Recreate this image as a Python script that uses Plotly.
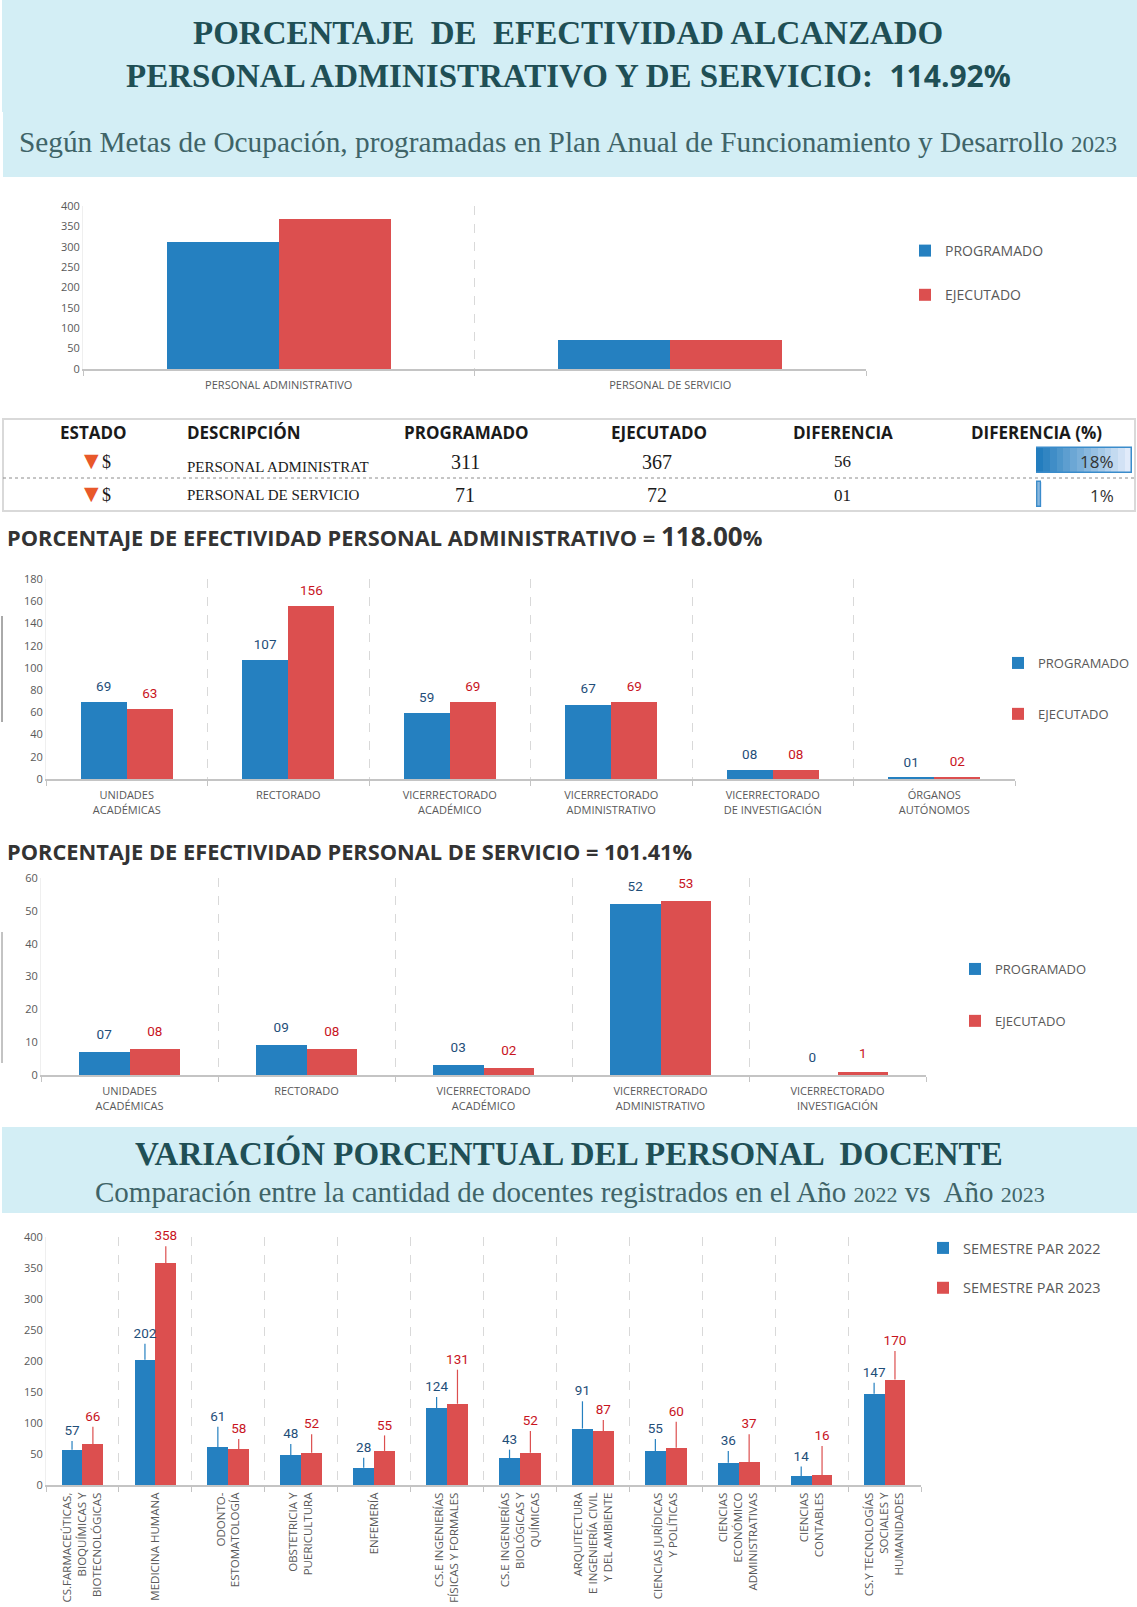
import plotly.graph_objects as go

W, H = 1137, 1607
BLUE, RED = "#2580c0", "#dc4f4f"
BLUE_TXT, RED_TXT = "#1f4e79", "#c8141e"
AX_TXT = "#595959"
SANS = "Open Sans"
SERIF = "Liberation Serif"

# ---- data ----
c1_cats = ["PERSONAL ADMINISTRATIVO", "PERSONAL DE SERVICIO"]
c1_prog = [311, 71]
c1_ejec = [367, 72]

c2_cats = ["UNIDADES<br>ACADÉMICAS", "RECTORADO", "VICERRECTORADO<br>ACADÉMICO",
           "VICERRECTORADO<br>ADMINISTRATIVO", "VICERRECTORADO<br>DE INVESTIGACIÓN", "ÓRGANOS<br>AUTÓNOMOS"]
c2_prog = [69, 107, 59, 67, 8, 1]
c2_ejec = [63, 156, 69, 69, 8, 2]
c2_prog_lbl = ["69", "107", "59", "67", "08", "01"]
c2_ejec_lbl = ["63", "156", "69", "69", "08", "02"]

c3_cats = ["UNIDADES<br>ACADÉMICAS", "RECTORADO", "VICERRECTORADO<br>ACADÉMICO",
           "VICERRECTORADO<br>ADMINISTRATIVO", "VICERRECTORADO<br>INVESTIGACIÓN"]
c3_prog = [7, 9, 3, 52, 0]
c3_ejec = [8, 8, 2, 53, 1]
c3_prog_lbl = ["07", "09", "03", "52", "0"]
c3_ejec_lbl = ["08", "08", "02", "53", "1"]

c4_cats = ["CS.FARMACEÚTICAS,<br>BIOQUÍMICAS Y<br>BIOTECNOLÓGICAS", "MEDICINA HUMANA",
           "ODONTO-<br>ESTOMATOLOGÍA", "OBSTETRICIA Y<br>PUERICULTURA", "ENFEMERÍA",
           "CS.E INGENIERÍAS<br>FÍSICAS Y FORMALES", "CS.E INGENIERÍAS<br>BIOLÓGICAS Y<br>QUÍMICAS",
           "ARQUITECTURA<br>E INGENIERÍA CIVIL<br>Y DEL AMBIENTE", "CIENCIAS JURÍDICAS<br>Y POLÍTICAS",
           "CIENCIAS<br>ECONÓMICO<br>ADMINISTRATIVAS", "CIENCIAS<br>CONTABLES",
           "CS.Y TECNOLOGÍAS<br>SOCIALES Y<br>HUMANIDADES"]
c4_2022 = [57, 202, 61, 48, 28, 124, 43, 91, 55, 36, 14, 147]
c4_2023 = [66, 358, 58, 52, 55, 131, 52, 87, 60, 37, 16, 170]
c4_2022_tip = [71, 228, 94, 66, 44, 142, 57, 135, 74, 55, 30, 165]
c4_2023_tip = [94, 385, 74, 82, 80, 186, 87, 105, 102, 82, 63, 216]

tbl_estado = ["$", "$"]
tbl_desc = ["PERSONAL ADMINISTRAT", "PERSONAL DE SERVICIO"]
tbl_prog = ["311", "71"]
tbl_ejec = ["367", "72"]
tbl_dif = ["56", "01"]
tbl_pct = [18, 1]
tbl_head = ["ESTADO", "DESCRIPCIÓN", "PROGRAMADO", "EJECUTADO", "DIFERENCIA", "DIFERENCIA (%)"]

BAR = 0.286
fx = lambda p: p / W
fy = lambda p: 1 - p / H

fig = go.Figure()
layout = dict(shapes=[], annotations=[])


def chart(n, cats, a, b, name_a, name_b, box, yrange, dtick, lbl_a=None, lbl_b=None,
          gap=None, tip_a=None, tip_b=None, tip_pad=0, legend_pos=None, legend_gap=24, legend_size=13,
          angle=0, tick_size=11, standoff=5):
    s = "" if n == 1 else str(n)
    xa, ya = "x" + s, "y" + s
    idx = list(range(len(cats)))
    lg = "legend" + s
    fig.add_bar(x=idx, y=a, width=BAR, offset=-BAR, name=name_a, marker_color=BLUE, marker_line_width=0,
                xaxis=xa, yaxis=ya, legend=lg, legendgroup=lg + "a")
    fig.add_bar(x=idx, y=b, width=BAR, offset=0, name=name_b, marker_color=RED, marker_line_width=0,
                xaxis=xa, yaxis=ya, legend=lg, legendgroup=lg + "b")
    if lbl_a:
        for vals, lbls, tips, col, sign in ((a, lbl_a, tip_a, BLUE_TXT, -1), (b, lbl_b, tip_b, RED_TXT, 1)):
            xs = [i + sign * BAR / 2 for i in idx]
            ys = [t + tip_pad for t in tips] if tips else [v + gap for v in vals]
            fig.add_scatter(x=xs, y=ys, mode="text", text=lbls, textposition="top center",
                            textfont=dict(family="Roboto", size=13.5, color=col), showlegend=False, xaxis=xa, yaxis=ya,
                            cliponaxis=False, hoverinfo="skip")
            if tips:
                fig.add_scatter(x=xs, y=tips, mode="markers", marker=dict(size=1, opacity=0), showlegend=False,
                                xaxis=xa, yaxis=ya, cliponaxis=False, hoverinfo="skip",
                                error_y=dict(type="data", symmetric=False, array=[0] * len(vals),
                                             arrayminus=[t - v for t, v in zip(tips, vals)],
                                             thickness=1.2, width=0, color=BLUE if sign < 0 else RED))
    x0, x1, y0, y1 = box
    layout["xaxis" + s] = dict(
        domain=[fx(x0), fx(x1)], range=[-0.5, len(cats) - 0.5], anchor=ya, tickvals=idx, ticktext=cats,
        tickangle=angle, ticks="", showgrid=False, showline=True, linecolor="#c4c4c4", linewidth=2, zeroline=False,
        ticklabelstandoff=standoff, tickfont=dict(family=SANS, size=tick_size, color=AX_TXT),
        minor=dict(tickvals=[i - 0.5 for i in range(len(cats) + 1)], showgrid=True, griddash="dash",
                   gridcolor="#d9d9d9", gridwidth=1, ticks="outside", ticklen=5, tickcolor="#c4c4c4"))
    layout["yaxis" + s] = dict(
        domain=[fy(y1), fy(y0)], range=yrange, anchor=xa, dtick=dtick, showgrid=False, zeroline=False,
        showline=True, linecolor="#efefef", linewidth=1, ticks="",
        tickfont=dict(family=SANS, size=11, color=AX_TXT))
    layout[lg] = dict(x=fx(legend_pos[0]), y=fy(legend_pos[1]), xanchor="left", yanchor="top",
                      tracegroupgap=legend_gap, itemwidth=30, bgcolor="rgba(0,0,0,0)",
                      font=dict(family=SANS, size=legend_size, color=AX_TXT), traceorder="grouped")


chart(1, c1_cats, c1_prog, c1_ejec, "PROGRAMADO", "EJECUTADO", (83, 866, 206, 369), [0, 400], 50,
      legend_pos=(905, 235), legend_gap=23, legend_size=14)
chart(2, c2_cats, c2_prog, c2_ejec, "PROGRAMADO", "EJECUTADO", (46, 1015, 579, 779), [0, 180], 20,
      c2_prog_lbl, c2_ejec_lbl, gap=7, legend_pos=(998, 648), legend_gap=31)
chart(3, c3_cats, c3_prog, c3_ejec, "PROGRAMADO", "EJECUTADO", (41, 926, 878, 1075), [0, 60], 10,
      c3_prog_lbl, c3_ejec_lbl, gap=3, legend_pos=(955, 954), legend_gap=32)
chart(4, c4_cats, c4_2022, c4_2023, "SEMESTRE PAR 2022", "SEMESTRE PAR 2023", (46, 921, 1237, 1485), [0, 400], 50,
      [str(v) for v in c4_2022], [str(v) for v in c4_2023],
      tip_a=c4_2022_tip, tip_b=c4_2023_tip, tip_pad=4, legend_pos=(923, 1232), legend_gap=18, legend_size=14.5,
      angle=-90, tick_size=11.5, standoff=1)

# data bars of the table, each split in lighter-going slices
for r, v in enumerate(tbl_pct):
    steps = 14
    for k in range(steps):
        t = k / (steps - 1)
        col = f"rgb({int(35 + t * 190)},{int(125 + t * 110)},{int(190 + t * 60)})"
        fig.add_bar(y=[r], x=[v / steps], base=[v * k / steps], orientation="h", width=0.76, marker_color=col,
                    marker_line_width=0, showlegend=False, xaxis="x5", yaxis="y5", hoverinfo="skip")
    fig.add_bar(y=[r], x=[v], base=[0], orientation="h", width=0.76, marker_color="rgba(0,0,0,0)",
                marker_line=dict(color="#3a8ccb", width=1.5), showlegend=False, xaxis="x5", yaxis="y5", hoverinfo="skip")
layout["xaxis5"] = dict(domain=[fx(1036), fx(1132)], range=[0, 18], anchor="y5", visible=False)
layout["yaxis5"] = dict(domain=[fy(511), fy(444)], range=[1.5, -0.5], anchor="x5", visible=False)


def band(x0, y0, x1, y1, col="#d3eef5"):
    layout["shapes"].append(dict(type="rect", xref="paper", yref="paper", x0=fx(x0), x1=fx(x1), y0=fy(y1), y1=fy(y0),
                                 fillcolor=col, line_width=0, layer="below"))


def text(x, y, s, size, fam=SANS, col="#262626", anchor="center", bold=False):
    layout["annotations"].append(dict(xref="paper", yref="paper", x=fx(x), y=fy(y), text=f"<b>{s}</b>" if bold else s,
                                      showarrow=False, xanchor=anchor, yanchor="middle",
                                      font=dict(family=fam, size=size, color=col)))


def line(x0, y0, x1, y1, col, w=1, dash="solid"):
    layout["shapes"].append(dict(type="line", xref="paper", yref="paper", x0=fx(x0), x1=fx(x1), y0=fy(y0), y1=fy(y1),
                                 line=dict(color=col, width=w, dash=dash)))


TEAL = "#1f4f55"
small = "<span style='font-size:{}px'>{}</span>"
band(2, 0, 1137, 112)
band(3, 112, 1137, 177)
band(2, 1127, 1137, 1213)
text(568, 33, "PORCENTAJE  DE  EFECTIVIDAD ALCANZADO", 33, SERIF, TEAL, bold=True)
text(568, 76, "PERSONAL ADMINISTRATIVO Y DE SERVICIO:  <span style='font-family:Open Sans;font-size:30px'>114.92%</span>",
     33, SERIF, TEAL, bold=True)
text(568, 142, "Según Metas de Ocupación, programadas en Plan Anual de Funcionamiento y Desarrollo " + small.format(23, "2023"),
     29.3, SERIF, "#3f6468")
text(569, 1153, "VARIACIÓN PORCENTUAL DEL PERSONAL  DOCENTE", 33, SERIF, TEAL, bold=True)
text(570, 1192, "Comparación entre la cantidad de docentes registrados en el Año " + small.format(22, "2022") + " vs  Año "
     + small.format(22, "2023"), 29, SERIF, "#3f6468")

text(5, 536, "PORCENTAJE DE EFECTIVIDAD PERSONAL ADMINISTRATIVO = <span style='font-size:26px'>118.00</span>%",
     21.8, SANS, "#333333", "left", True)
text(5, 851, "PORCENTAJE DE EFECTIVIDAD PERSONAL DE SERVICIO = 101.41%", 21.8, SANS, "#333333", "left", True)

# table
layout["shapes"].append(dict(type="rect", xref="paper", yref="paper", x0=fx(3), x1=fx(1135), y0=fy(511), y1=fy(419),
                             line=dict(color="#d9d9d9", width=2)))
line(3, 478, 1135, 478, "#8c8c8c", 1, "dot")
for x, s, anc in zip((93, 185, 466, 659, 843, 1036), tbl_head, ("center", "left", "center", "center", "center", "center")):
    text(x, 432, s, 17, SANS, "#1a1a1a", anc, True)
for i, yy in enumerate((462, 495)):
    text(91, yy - 2, "▼", 19, "DejaVu Sans", "#e8582a")
    text(106, yy, tbl_estado[i], 18, SERIF, "#1a1a1a")
    text(185, yy + (5 if i == 0 else 0), tbl_desc[i], 15, SERIF, "#1a1a1a", "left")
    text(465, yy, tbl_prog[i], 20, SERIF, "#1a1a1a")
    text(657, yy, tbl_ejec[i], 20, SERIF, "#1a1a1a")
    text(842, yy, tbl_dif[i], 17, SERIF, "#1a1a1a")
    text(1116, yy, f"{tbl_pct[i]}%", 17, SANS, "#333333", "right")

line(2, 616, 2, 722, "#555555", 1)
line(2, 932, 2, 1063, "#888888", 1)

fig.update_layout(width=W, height=H, margin=dict(l=0, r=0, t=0, b=0, autoexpand=False), paper_bgcolor="white",
                  plot_bgcolor="rgba(0,0,0,0)", barmode="overlay", bargap=0, hovermode=False, **layout)
fig.write_html("out.html", config={"displayModeBar": False}, post_script="document.body.style.margin='0';")
